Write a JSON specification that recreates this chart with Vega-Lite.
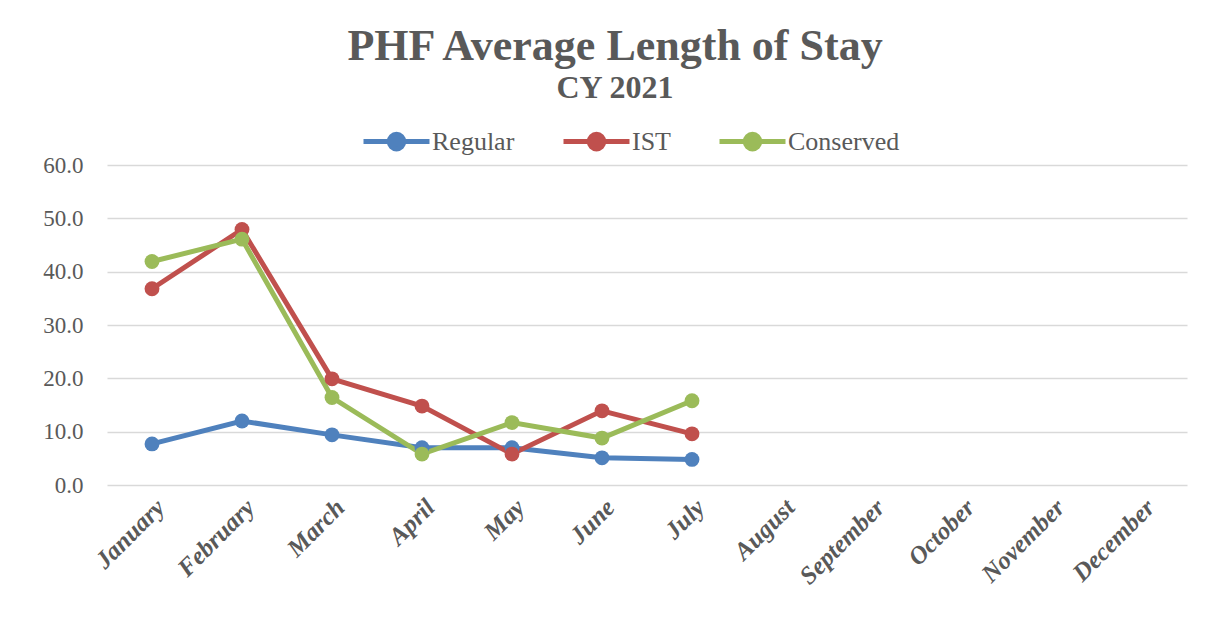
{
  "$schema": "https://vega.github.io/schema/vega-lite/v6.json",
  "width": 1080,
  "height": 320,
  "autosize": {"type": "none"},
  "padding": {"left": 107, "top": 165, "right": 23, "bottom": 135},
  "background": "white",
  "config": {"view": {"stroke": null}},
  "title": {
    "text": "PHF Average Length of Stay",
    "subtitle": "CY 2021",
    "anchor": "middle",
    "dx": -32,
    "offset": 2,
    "font": "Liberation Serif",
    "fontSize": 44,
    "fontWeight": "bold",
    "color": "#595959",
    "subtitleFont": "Liberation Serif",
    "subtitleFontSize": 32,
    "subtitleFontWeight": "bold",
    "subtitleColor": "#595959",
    "subtitlePadding": 4
  },
  "data": {
    "values": [
      {"month": "January", "series": "Regular", "value": 7.7},
      {"month": "February", "series": "Regular", "value": 12.0},
      {"month": "March", "series": "Regular", "value": 9.4},
      {"month": "April", "series": "Regular", "value": 7.0},
      {"month": "May", "series": "Regular", "value": 7.0},
      {"month": "June", "series": "Regular", "value": 5.1},
      {"month": "July", "series": "Regular", "value": 4.8},
      {"month": "January", "series": "IST", "value": 36.8},
      {"month": "February", "series": "IST", "value": 47.9},
      {"month": "March", "series": "IST", "value": 19.9},
      {"month": "April", "series": "IST", "value": 14.8},
      {"month": "May", "series": "IST", "value": 5.8},
      {"month": "June", "series": "IST", "value": 13.9},
      {"month": "July", "series": "IST", "value": 9.6},
      {"month": "January", "series": "Conserved", "value": 41.9},
      {"month": "February", "series": "Conserved", "value": 46.1},
      {"month": "March", "series": "Conserved", "value": 16.4},
      {"month": "April", "series": "Conserved", "value": 5.8},
      {"month": "May", "series": "Conserved", "value": 11.7},
      {"month": "June", "series": "Conserved", "value": 8.8},
      {"month": "July", "series": "Conserved", "value": 15.8}
    ]
  },
  "encoding": {
    "x": {
      "field": "month",
      "type": "ordinal",
      "scale": {
        "type": "point",
        "padding": 0.5,
        "domain": ["January", "February", "March", "April", "May", "June", "July", "August", "September", "October", "November", "December"]
      },
      "axis": {
        "title": null,
        "labelAngle": -45,
        "labelAlign": "right",
        "labelBaseline": "middle",
        "labelPadding": 18,
        "labelOffset": 8,
        "labelFont": "Liberation Serif",
        "labelFontSize": 25,
        "labelFontWeight": "bold",
        "labelFontStyle": "italic",
        "labelColor": "#595959",
        "ticks": false,
        "domain": false,
        "grid": false
      }
    },
    "y": {
      "field": "value",
      "type": "quantitative",
      "scale": {"domain": [0, 60], "nice": false, "zero": true},
      "axis": {
        "title": null,
        "values": [0, 10, 20, 30, 40, 50, 60],
        "format": ".1f",
        "labelFont": "Liberation Serif",
        "labelFontSize": 23,
        "labelColor": "#595959",
        "labelPadding": 24,
        "ticks": false,
        "domain": false,
        "grid": true,
        "gridColor": "#D9D9D9",
        "gridWidth": 1.5
      }
    },
    "color": {
      "field": "series",
      "type": "nominal",
      "scale": {
        "domain": ["Regular", "IST", "Conserved"],
        "range": ["#4F81BD", "#C0504D", "#9BBB59"]
      },
      "legend": {
        "title": null,
        "orient": "none",
        "legendX": 254,
        "legendY": -59,
        "direction": "horizontal",
        "columns": 3,
        "padding": 0,
        "columnPadding": 38,
        "symbolType": "M-1,0H1M0.22,0A0.22,0.22,0,1,1,-0.22,0A0.22,0.22,0,1,1,0.22,0Z",
        "symbolSize": 4356,
        "symbolStrokeWidth": 5,
        "labelFont": "Liberation Serif",
        "labelFontSize": 26,
        "labelColor": "#595959",
        "labelOffset": 0
      }
    }
  },
  "layer": [
    {"mark": {"type": "line", "strokeWidth": 5}},
    {"mark": {"type": "point", "filled": true, "size": 220, "opacity": 1}}
  ]
}
